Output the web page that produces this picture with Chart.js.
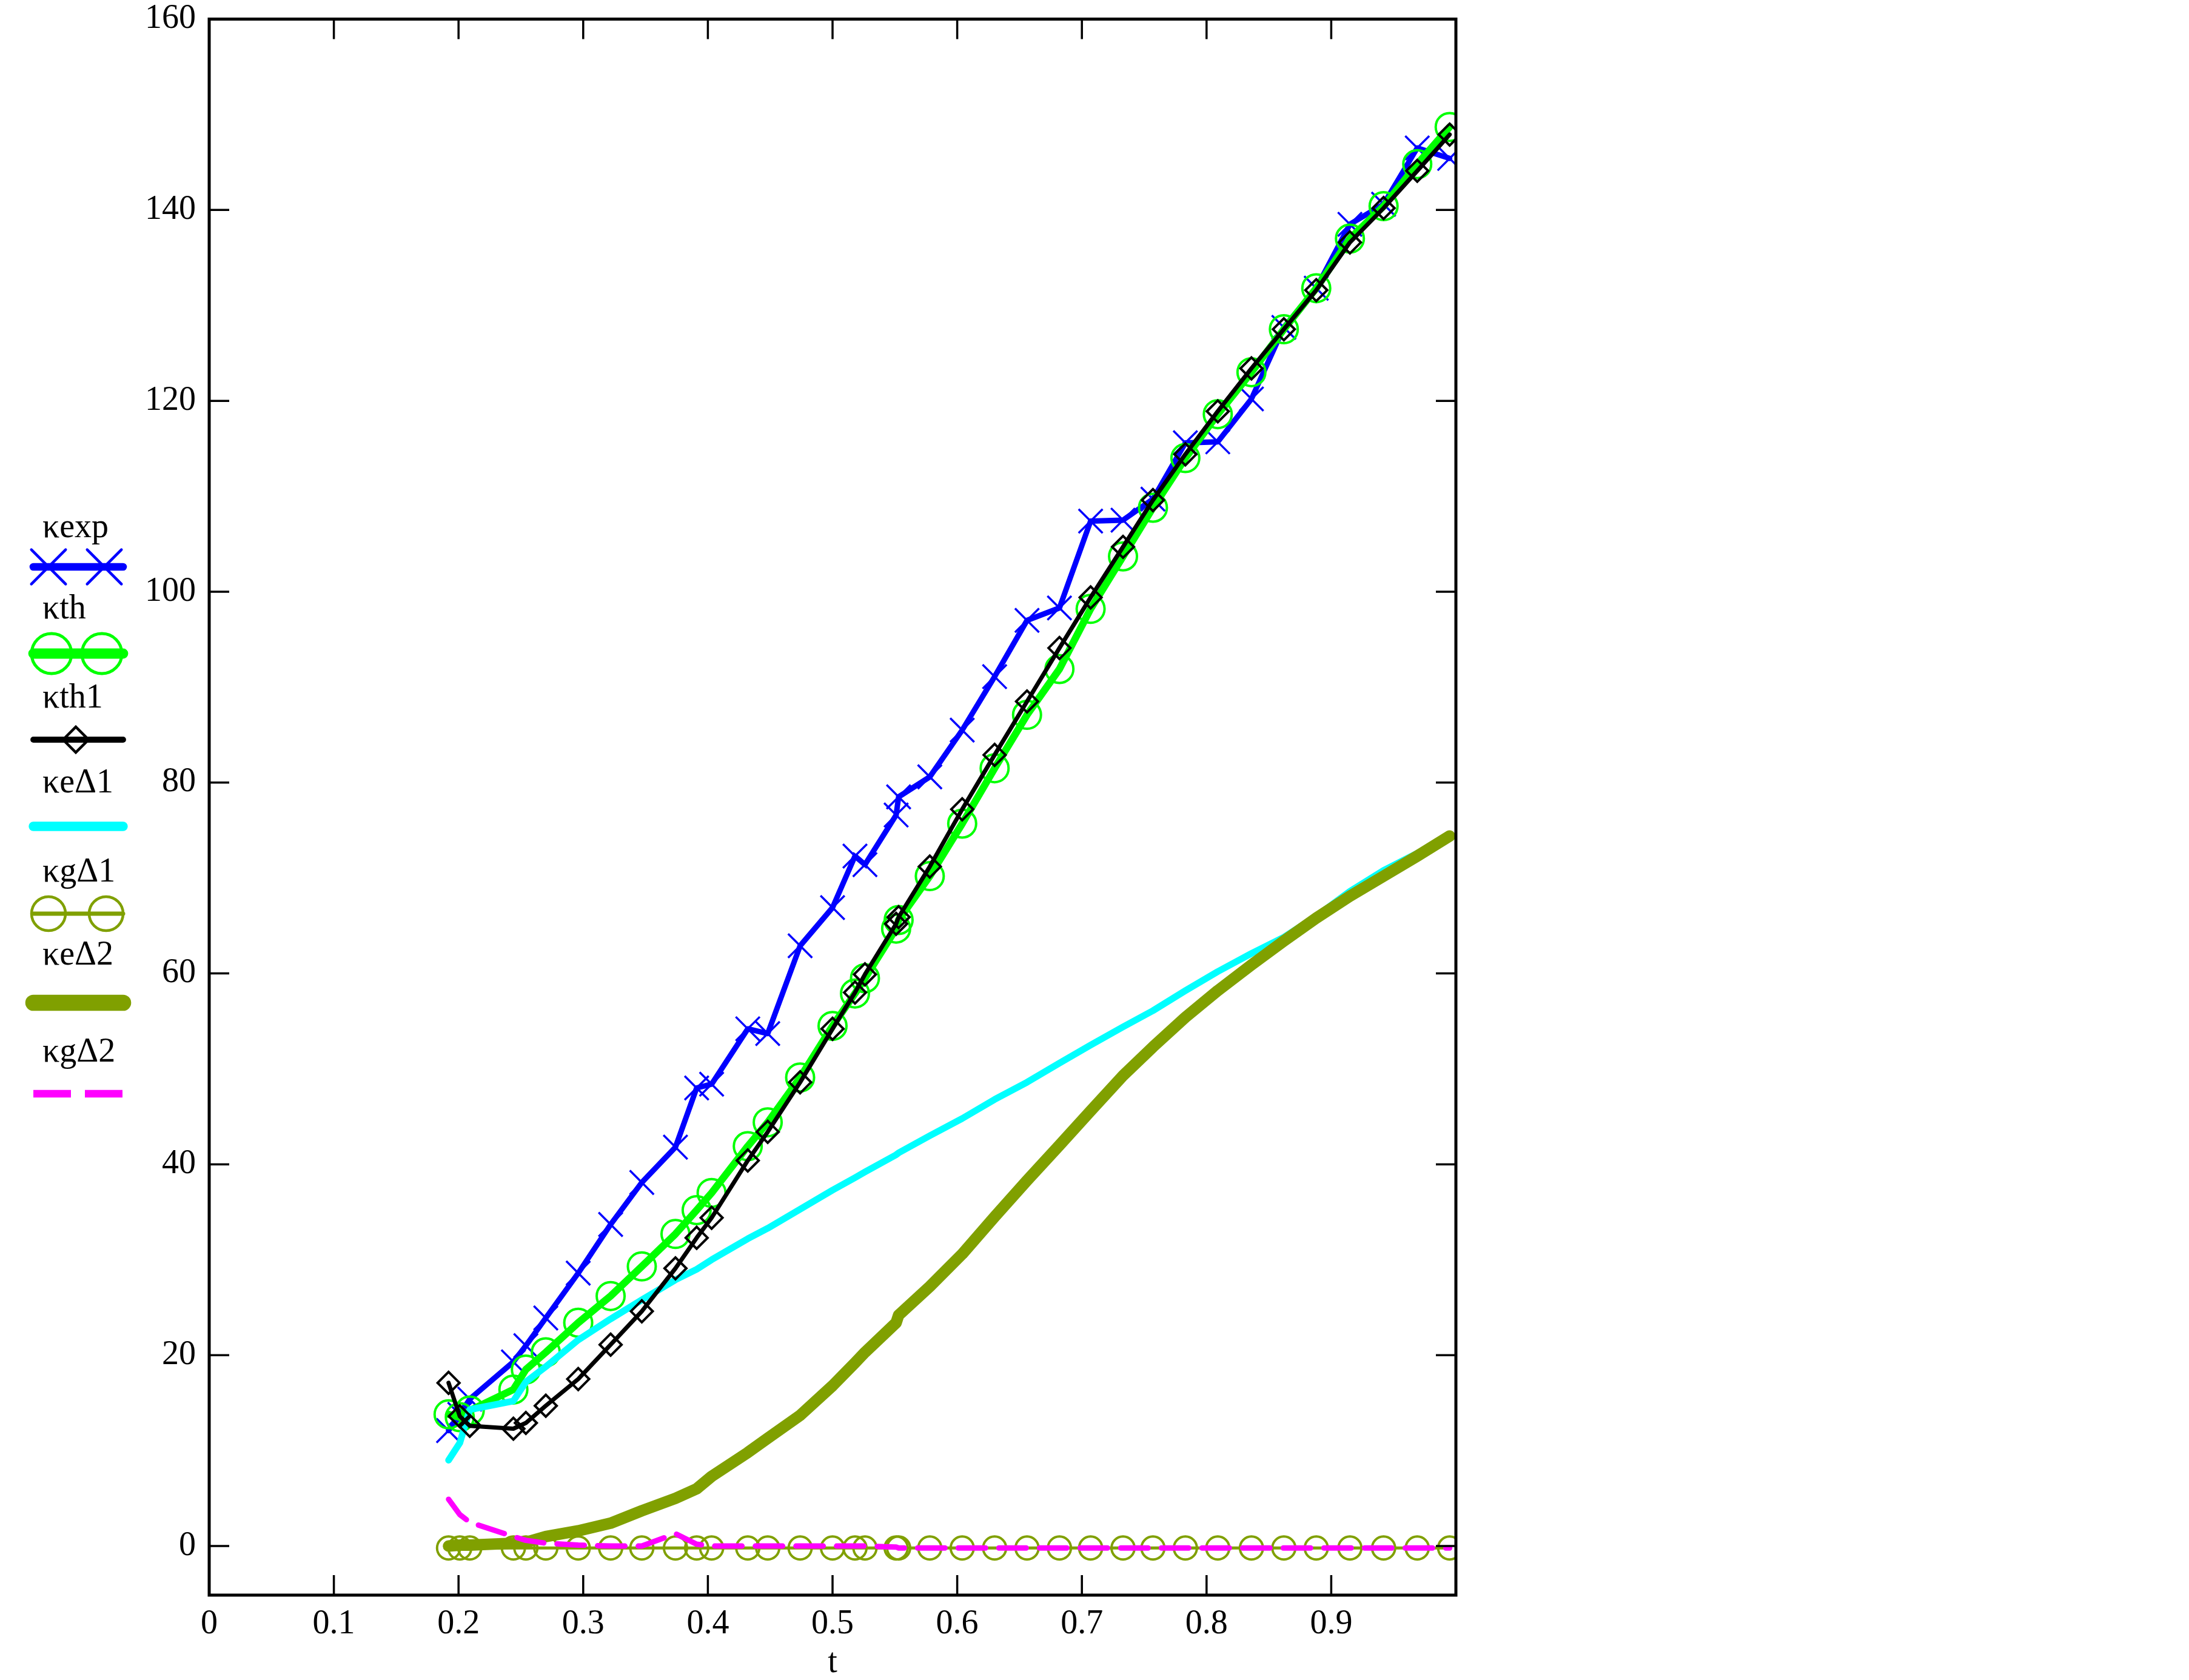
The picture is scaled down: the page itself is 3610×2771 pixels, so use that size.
<!DOCTYPE html>
<html>
<head>
<meta charset="utf-8">
<script src="https://cdn.jsdelivr.net/npm/chart.js@4.4.1/dist/chart.umd.min.js"></script>
<style>
  html, body { margin: 0; padding: 0; background: #fff; }
  canvas { display: block; }
</style>
</head>
<body>
<canvas id="kappa-chart" width="3610" height="2771"></canvas>
<script>
// values

const tValues = [0.192, 0.201, 0.209, 0.244, 0.254, 0.270, 0.296, 0.322, 0.347, 0.374,
  0.391, 0.403, 0.432, 0.448, 0.474, 0.500, 0.518, 0.526, 0.551, 0.553,
  0.578, 0.604, 0.630, 0.656, 0.682, 0.707, 0.733, 0.757, 0.783, 0.809,
  0.836, 0.862, 0.888, 0.915, 0.942, 0.969, 0.995];

const kExp = [12.1, 13.8, 15.4, 19.3, 21.0, 23.9, 28.6, 33.7, 38.1, 41.8,
  48.0, 48.4, 54.2, 53.7, 62.9, 66.9, 72.3, 71.4, 76.6, 78.5,
  80.6, 85.5, 91.1, 97.0, 98.3, 107.4, 107.5, 109.7, 115.6, 115.7,
  120.2, 127.7, 131.8, 138.5, 140.6, 146.5, 145.4];

const kTh = [13.8, 13.5, 14.2, 16.4, 18.5, 20.3, 23.4, 26.2, 29.3, 32.7,
  35.2, 37.0, 41.9, 44.4, 49.1, 54.5, 57.9, 59.5, 64.7, 65.6,
  70.2, 75.7, 81.5, 87.1, 91.9, 98.2, 103.7, 108.8, 114.0, 118.6,
  123.0, 127.5, 131.8, 137.0, 140.4, 144.8, 148.7];

const kTh1 = [17.1, 13.6, 12.6, 12.3, 12.9, 14.7, 17.5, 21.1, 24.6, 29.1,
  32.3, 34.4, 40.4, 43.4, 48.6, 54.2, 58.0, 59.9, 65.2, 65.9,
  71.2, 77.2, 82.9, 88.5, 94.1, 99.4, 104.7, 109.6, 114.4, 118.9,
  123.4, 127.5, 131.6, 136.6, 140.2, 144.1, 147.9];

const keD1 = [9.0, 10.8, 14.3, 15.2, 17.2, 18.8, 21.6, 23.8, 25.8, 27.9,
  29.0, 30.0, 32.2, 33.3, 35.3, 37.3, 38.6, 39.2, 41.0, 41.2,
  43.0, 44.8, 46.8, 48.6, 50.6, 52.5, 54.4, 56.1, 58.2, 60.2,
  62.1, 63.8, 66.0, 68.6, 70.8, 72.6, 74.2];

const kgD1 = [-0.2, -0.2, -0.2, -0.2, -0.2, -0.2, -0.2, -0.2, -0.2, -0.2,
  -0.2, -0.2, -0.2, -0.2, -0.2, -0.2, -0.2, -0.2, -0.2, -0.2,
  -0.2, -0.2, -0.2, -0.2, -0.2, -0.2, -0.2, -0.2, -0.2, -0.2,
  -0.2, -0.2, -0.2, -0.2, -0.2, -0.2, -0.2];

const keD2 = [0.0, 0.1, 0.1, 0.3, 0.4, 1.0, 1.6, 2.4, 3.7, 5.0,
  6.0, 7.3, 9.8, 11.3, 13.7, 16.8, 19.2, 20.3, 23.4, 24.2,
  27.2, 30.6, 34.5, 38.3, 42.0, 45.6, 49.3, 52.3, 55.4, 58.2,
  60.9, 63.4, 65.8, 68.1, 70.2, 72.3, 74.4];

const kgD2 = [4.9, 3.3, 2.5, 1.0, 0.6, 0.3, 0.1, 0.0, 0.0, 1.3,
  0.2, 0.0, 0.0, 0.0, 0.0, 0.0, 0.0, 0.0, -0.1, -0.2,
  -0.2, -0.2, -0.2, -0.2, -0.2, -0.2, -0.2, -0.2, -0.2, -0.2,
  -0.2, -0.2, -0.2, -0.2, -0.2, -0.2, -0.2];

const seriesLabels = ['κexp', 'κth', 'κth1', 'κeΔ1', 'κgΔ1', 'κeΔ2', 'κgΔ2'];
const xTicks = [0, 0.1, 0.2, 0.3, 0.4, 0.5, 0.6, 0.7, 0.8, 0.9];
const yTicks = [0, 20, 40, 60, 80, 100, 120, 140, 160];
const xTitle = 't';

const FONT = '"Liberation Serif", "Times New Roman", serif';

function pts(ys) {
  return tValues.map(function (t, i) { return { x: t, y: ys[i] }; });
}

function drawMark(ctx, style, x, y, r) {
  ctx.beginPath();
  if (style === 'circle') {
    ctx.arc(x, y, r, 0, Math.PI * 2);
  } else if (style === 'crossRot') {
    const d = r * Math.SQRT1_2;
    ctx.moveTo(x - d, y - d); ctx.lineTo(x + d, y + d);
    ctx.moveTo(x + d, y - d); ctx.lineTo(x - d, y + d);
  } else if (style === 'rectRot') {
    ctx.moveTo(x - r, y); ctx.lineTo(x, y - r);
    ctx.lineTo(x + r, y); ctx.lineTo(x, y + r);
    ctx.closePath();
  }
  ctx.stroke();
}

// box with inward ticks on all four sides
const framePlugin = {
  id: 'frame',
  afterDraw(chart) {
    const ctx = chart.ctx, a = chart.chartArea;
    const xs = chart.scales.x, ys = chart.scales.y;
    ctx.save();
    ctx.strokeStyle = '#000';
    ctx.lineWidth = 5;
    ctx.strokeRect(a.left, a.top, a.right - a.left, a.bottom - a.top);
    ctx.lineWidth = 3.5;
    ctx.beginPath();
    xTicks.forEach(function (v) {
      if (v === 0) return;
      const px = xs.getPixelForValue(v);
      ctx.moveTo(px, a.bottom); ctx.lineTo(px, a.bottom - 33);
      ctx.moveTo(px, a.top); ctx.lineTo(px, a.top + 33);
    });
    yTicks.forEach(function (v) {
      const py = ys.getPixelForValue(v);
      ctx.moveTo(a.left, py); ctx.lineTo(a.left + 33, py);
      ctx.moveTo(a.right, py); ctx.lineTo(a.right - 33, py);
    });
    ctx.stroke();
    ctx.restore();
  }
};

// stacked legend at the left: name above, sample line below
const sideLegend = {
  id: 'sideLegend',
  afterDraw(chart) {
    const ctx = chart.ctx;
    const textY = [871, 1005, 1152, 1292, 1439, 1576, 1736];
    const lineY = [935, 1078, 1220, 1363, 1507, 1654, 1804];
    const marks = [
      { style: 'crossRot', r: 40, xs: [80, 172], w: 4.5 },
      { style: 'circle', r: 33, xs: [85, 168], w: 5 },
      { style: 'rectRot', r: 21, xs: [125], w: 4.5 },
      null,
      { style: 'circle', r: 28, xs: [80, 175], w: 4.5 },
      null,
      null
    ];
    ctx.save();
    chart.data.datasets.forEach(function (ds, i) {
      ctx.fillStyle = '#000';
      ctx.font = '56px ' + FONT;
      ctx.textAlign = 'left';
      ctx.textBaseline = 'middle';
      ctx.fillText(seriesLabels[i], 70, textY[i]);

      ctx.strokeStyle = ds.borderColor;
      ctx.lineWidth = ds.borderWidth * 1.4;
      ctx.lineCap = ds.borderDash ? 'butt' : 'round';
      ctx.setLineDash(ds.borderDash ? [62, 23] : []);
      ctx.beginPath();
      ctx.moveTo(55, lineY[i]);
      ctx.lineTo(203, lineY[i]);
      ctx.stroke();
      ctx.setLineDash([]);

      const m = marks[i];
      if (m) {
        ctx.lineWidth = m.w;
        m.xs.forEach(function (x) { drawMark(ctx, m.style, x, lineY[i], m.r); });
      }
    });
    ctx.restore();
  }
};

const ctx = document.getElementById('kappa-chart').getContext('2d');
const kappaChart = new Chart(ctx, {
  type: 'line',
  data: {
    datasets: [
      {
        label: seriesLabels[0], data: pts(kExp),
        borderColor: '#0000ff', borderWidth: 9,
        pointStyle: 'crossRot', pointRadius: 28, pointBorderWidth: 3.5,
        pointBorderColor: '#0000ff', pointBackgroundColor: 'rgba(0,0,0,0)',
        order: 7
      },
      {
        label: seriesLabels[1], data: pts(kTh),
        borderColor: '#00ff00', borderWidth: 12,
        pointStyle: 'circle', pointRadius: 23, pointBorderWidth: 4,
        pointBorderColor: '#00ff00', pointBackgroundColor: 'rgba(0,0,0,0)',
        order: 6
      },
      {
        label: seriesLabels[2], data: pts(kTh1),
        borderColor: '#000000', borderWidth: 7,
        pointStyle: 'rectRot', pointRadius: 18, pointBorderWidth: 4,
        pointBorderColor: '#000000', pointBackgroundColor: 'rgba(0,0,0,0)',
        order: 4
      },
      {
        label: seriesLabels[3], data: pts(keD1),
        borderColor: '#00ffff', borderWidth: 11,
        pointRadius: 0,
        order: 5
      },
      {
        label: seriesLabels[4], data: pts(kgD1),
        borderColor: '#80a000', borderWidth: 5,
        pointStyle: 'circle', pointRadius: 19, pointBorderWidth: 4,
        pointBorderColor: '#80a000', pointBackgroundColor: 'rgba(0,0,0,0)',
        order: 3
      },
      {
        label: seriesLabels[5], data: pts(keD2),
        borderColor: '#80a000', borderWidth: 19,
        pointRadius: 0,
        order: 2
      },
      {
        label: seriesLabels[6], data: pts(kgD2),
        borderColor: '#ff00ff', borderWidth: 9, borderDash: [45, 22],
        pointRadius: 0,
        order: 1
      }
    ]
  },
  options: {
    responsive: false,
    animation: false,
    devicePixelRatio: 1,
    layout: { padding: { left: 0, top: 30, right: 1209, bottom: 0 } },
    elements: {
      line: { tension: 0, fill: false, borderCapStyle: 'round', borderJoinStyle: 'round' }
    },
    plugins: { legend: { display: false }, tooltip: { enabled: false } },
    scales: {
      x: {
        type: 'linear', min: 0, max: 1,
        afterBuildTicks: function (s) { s.ticks = xTicks.map(function (v) { return { value: v }; }); },
        afterFit: function (s) { s.height = 140; },
        grid: { display: false, drawTicks: false },
        border: { display: false },
        ticks: {
          autoSkip: false, maxRotation: 0, padding: 20, color: '#000',
          font: { family: FONT, size: 56, lineHeight: 1 },
          callback: function (v) { return String(v); }
        },
        title: {
          display: true, text: xTitle, color: '#000',
          font: { family: FONT, size: 56, lineHeight: 1 },
          padding: { top: 0, bottom: 0 }
        }
      },
      y: {
        type: 'linear', min: -5.14, max: 160,
        afterBuildTicks: function (s) { s.ticks = yTicks.map(function (v) { return { value: v }; }); },
        afterFit: function (s) { s.width = 345; },
        // invisible 22px tick marks give the label gap without adding top padding
        grid: { display: true, drawOnChartArea: false, drawTicks: true, tickLength: 22, color: 'rgba(0,0,0,0)' },
        border: { display: false },
        ticks: {
          padding: 0, color: '#000',
          font: { family: FONT, size: 56, lineHeight: 1 },
          callback: function (v) { return String(v); }
        }
      }
    }
  },
  plugins: [framePlugin, sideLegend]
});
</script>
</body>
</html>
